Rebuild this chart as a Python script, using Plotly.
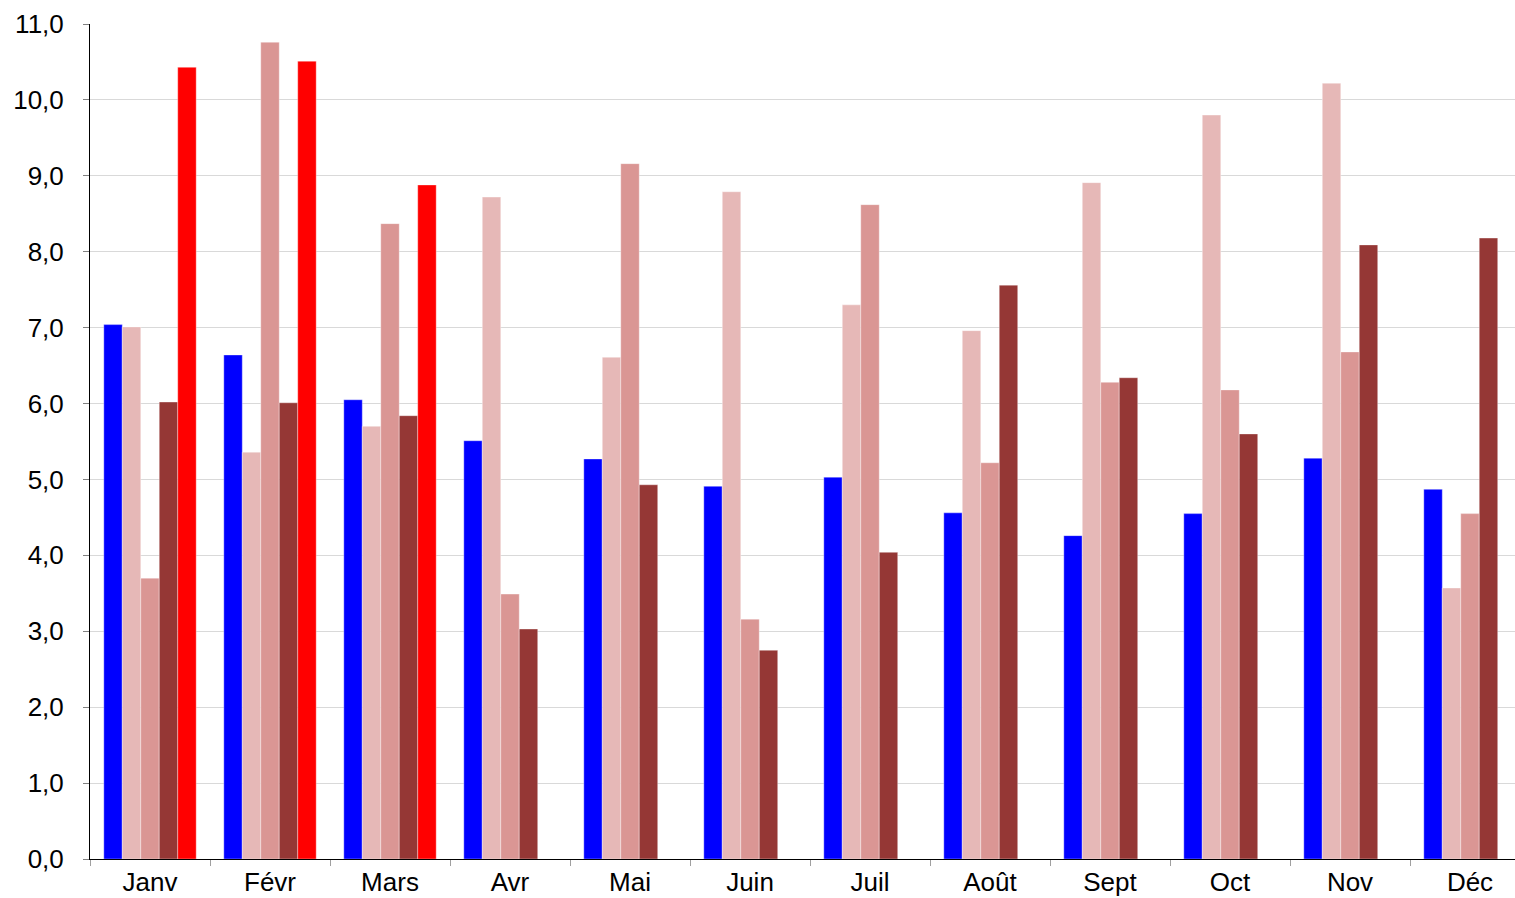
import plotly.graph_objects as go

months = ["Janv", "Févr", "Mars", "Avr", "Mai", "Juin", "Juil", "Août", "Sept", "Oct", "Nov", "Déc"]

serie_bleue = [7.04, 6.64, 6.05, 5.51, 5.27, 4.91, 5.03, 4.56, 4.26, 4.55, 5.28, 4.87]
serie_rose_clair = [7.01, 5.36, 5.70, 8.72, 6.61, 8.79, 7.30, 6.96, 8.91, 9.80, 10.22, 3.57]
serie_rose = [3.70, 10.76, 8.37, 3.49, 9.16, 3.16, 8.62, 5.22, 6.28, 6.18, 6.68, 4.55]
serie_brune = [6.02, 6.01, 5.84, 3.03, 4.93, 2.75, 4.04, 7.56, 6.34, 5.60, 8.09, 8.18]
serie_rouge = [10.43, 10.51, 8.88, None, None, None, None, None, None, None, None, None]

series = [
    ("bleu", serie_bleue, "#0000FF"),
    ("rose clair", serie_rose_clair, "#E6B8B7"),
    ("rose", serie_rose, "#DA9694"),
    ("brun", serie_brune, "#953735"),
    ("rouge", serie_rouge, "#FF0000"),
]

fig = go.Figure()
for name, values, color in series:
    fig.add_trace(go.Bar(
        name=name,
        x=months,
        y=values,
        marker_color=color,
        marker_line=dict(color="rgba(255,255,255,0.6)", width=0.6),
    ))

fig.update_layout(
    width=1515,
    height=898,
    barmode="group",
    bargap=0.23,
    bargroupgap=0,
    showlegend=False,
    separators=", ",
    paper_bgcolor="white",
    plot_bgcolor="white",
    font=dict(family="Liberation Sans, Arial, sans-serif", size=26, color="black"),
    margin=dict(l=90, r=0, t=24, b=39),
    xaxis=dict(
        # last month is cut by the right edge, as in the original
        range=[-0.5, 11.375],
        automargin=False,
        showline=True,
        linecolor="black",
        linewidth=1,
        ticks="outside",
        tickson="boundaries",
        ticklen=6,
        tickcolor="#A0A0A0",
        showgrid=False,
    ),
    yaxis=dict(
        range=[0, 11],
        automargin=False,
        dtick=1,
        tickformat=".1f",
        showline=True,
        linecolor="black",
        linewidth=1,
        ticks="outside",
        ticklen=6,
        tickcolor="#808080",
        ticklabelstandoff=14,
        gridcolor="#D9D9D9",
        gridwidth=1,
        zeroline=False,
    ),
)

# drop the default body margin so the figure fills the window
fig.write_html(
    "out.html",
    config={"displayModeBar": False},
    post_script="document.body.style.margin='0'; document.body.style.overflow='hidden';",
)
